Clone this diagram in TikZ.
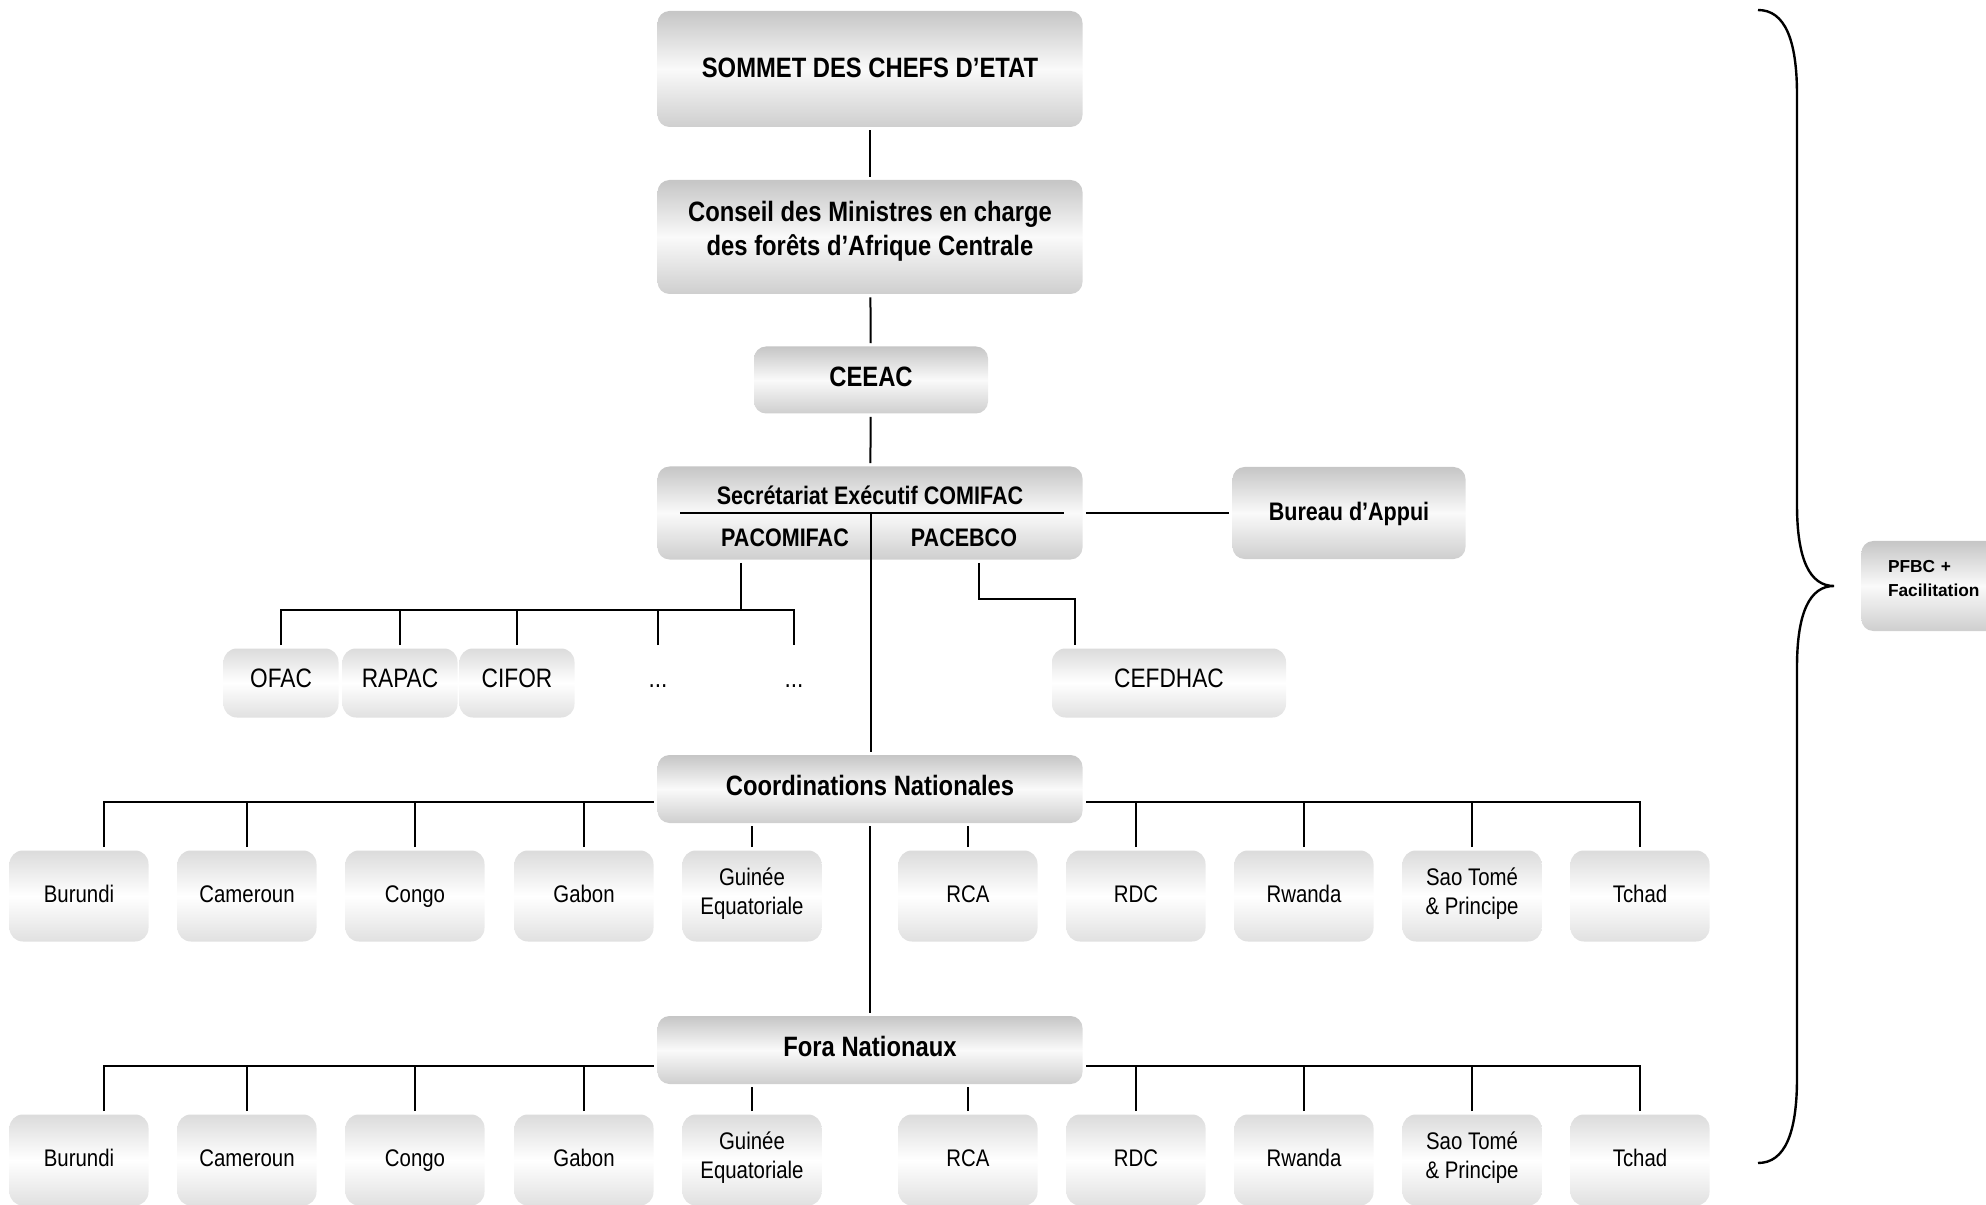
\documentclass[tikz,border=0pt]{standalone}
\usepackage{fontspec}
\setmainfont{Liberation Sans}[FakeStretch=0.85]
\newfontfamily\pfbcfont{Liberation Sans}
\usetikzlibrary{calc}

\begin{document}
\begin{tikzpicture}[x=0.75pt,y=-0.75pt,
    box/.style={rounded corners=9pt,top color=gray!45,bottom color=gray!38,middle color=white!96!gray,
        align=center,outer sep=2.5pt,inner sep=0pt},
    bigbox/.style={box,minimum width=318.75pt,text height=15pt,text depth=2.6pt,
        font=\bfseries\fontsize{21}{26}\selectfont},
    midbox/.style={box,minimum width=175.5pt,text height=13.6pt,text depth=2pt,
        font=\bfseries\fontsize{19}{23}\selectfont},
    smallbox/.style={box,rounded corners=10pt,top color=gray!28,bottom color=gray!24,middle color=white,
        minimum width=86.25pt,minimum height=51.75pt,text height=14.3pt,text depth=8pt,
        font=\fontsize{20}{24}\selectfont},
    dotsbox/.style={minimum height=51.75pt,outer sep=2.5pt,inner sep=0pt,text height=14.3pt,text depth=8pt,
        font=\fontsize{20}{24}\selectfont},
    countrybox/.style={smallbox,minimum width=104.25pt,minimum height=68.25pt,text height=12.9pt,
        text depth=3pt,font=\fontsize{18}{21.25}\selectfont},
    oneline/.style={},
    twoline/.style={text height=27.15pt,text depth=0pt},
    sectext/.style={font=\bfseries\fontsize{19}{23}\selectfont,inner sep=0pt},
    link/.style={line width=1.5pt}]
\useasboundingbox (0,0) rectangle (1986,1205);
\clip (0,0) rectangle (1986,1205);

% top of the chain
\node[bigbox,minimum height=87pt] (sommet) at (870,69) {SOMMET DES CHEFS D’ETAT};
\node[bigbox,minimum height=85.5pt,text height=28.2pt,text depth=0pt] (conseil) at (870,237) {Conseil des Ministres en charge\\des forêts d’Afrique Centrale};
\node[bigbox,minimum width=175.5pt,minimum height=50.25pt,text depth=5pt] (ceeac) at (871,380) {CEEAC};

% secretariat
\node[bigbox,minimum height=69.75pt] (secr) at (870,513) {};
\node[sectext] (secrtitle) at (870,495) {Secrétariat Exécutif COMIFAC};
\node[sectext] (pacomifac) at (785,538) {PACOMIFAC};
\node[sectext] (pacebco) at (964,538) {PACEBCO};
\node[midbox,minimum width=174.75pt,minimum height=69pt] (bureau) at (1349,513) {Bureau d’Appui};

% partners
\node[smallbox] (ofac) at (281,683) {OFAC};
\node[smallbox] (rapac) at (400,683) {RAPAC};
\node[smallbox] (cifor) at (517,683) {CIFOR};
\node[dotsbox] (dotsa) at (658,683) {...};
\node[dotsbox] (dotsb) at (794,683) {...};
\node[smallbox,minimum width=175.5pt] (cefdhac) at (1169,683) {CEFDHAC};

% national levels
\node[bigbox,minimum height=51pt,text depth=5pt] (coord) at (870,789) {Coordinations Nationales};
\node[bigbox,minimum height=51pt,text depth=5pt] (fora) at (870,1050) {Fora Nationaux};

\foreach \name/\cx/\txt/\sty in {burundi/79/Burundi/oneline, cameroun/247/Cameroun/oneline,
    congo/415/Congo/oneline, gabon/584/Gabon/oneline, guinee/752/{Guinée\\Equatoriale}/twoline,
    rca/968/RCA/oneline, rdc/1136/RDC/oneline, rwanda/1304/Rwanda/oneline,
    saotome/1472/{Sao Tomé\\\& Principe}/twoline, tchad/1640/Tchad/oneline} {
  \node[countrybox,\sty] (cn\name) at (\cx,896) {\txt};
  \node[countrybox,\sty] (fn\name) at (\cx,1160) {\txt};
}

% connectors
\draw[link] (sommet) -- (conseil);
\draw[link] (conseil) -- (ceeac);
\draw[link] (ceeac) -- (secr);
\draw[link] (secr) -- (bureau);
\draw[link] (680,513) -- (1064,513);
\coordinate (split) at (871,513);
\draw[link] (split) -- (split |- coord.north);
\draw[link] (coord) -- (fora);

\coordinate (pacbus) at (741,610);
\draw[link] (secr.south -| pacbus) -- (pacbus);
\draw[link] (ofac.north) |- (pacbus) -| (dotsb.north);
\foreach \n in {rapac,cifor,dotsa}
  \draw[link] (\n.north) -- (\n.north |- pacbus);

\coordinate (cefbend) at (979,599);
\draw[link] (secr.south -| cefbend) -- (cefbend) -| ([xshift=19.5pt]cefdhac.north west);

\coordinate (cnbus) at (870,802);
\coordinate (fnbus) at (870,1066);
\foreach \lvl/\top/\bus in {cn/coord/cnbus, fn/fora/fnbus} {
  \draw[link] ([xshift=18.75pt]\lvl burundi.north) |- (\top.west |- \bus);
  \draw[link] (\lvl tchad.north) |- (\top.east |- \bus);
  \foreach \n in {cameroun,congo,gabon,rdc,rwanda,saotome}
    \draw[link] (\lvl\n.north) -- (\lvl\n.north |- \bus);
  \foreach \n in {guinee,rca}
    \draw[link] (\lvl\n.north) -- (\lvl\n.north |- \top.south);
}

% brace and facilitation
\coordinate (bracetip) at (1834,586);
\draw[line width=1.8pt] (1758,10) .. controls (1785,10) and (1797,40) .. (1797,95) -- (1797,505)
  .. controls (1797,560) and (1810,586) .. (bracetip)
  .. controls (1810,586) and (1797,612) .. (1797,667) -- (1797,1078)
  .. controls (1797,1133) and (1785,1163) .. (1758,1163);
\node[box,anchor=west,minimum width=150pt,minimum height=67.5pt,text width=110pt,align=left,
  inner xsep=17pt,text height=9.3pt,text depth=30pt,
  font=\pfbcfont\bfseries\fontsize{13}{18}\selectfont] (pfbc) at (1858,586) {PFBC +\\Facilitation};
\end{tikzpicture}
\end{document}
